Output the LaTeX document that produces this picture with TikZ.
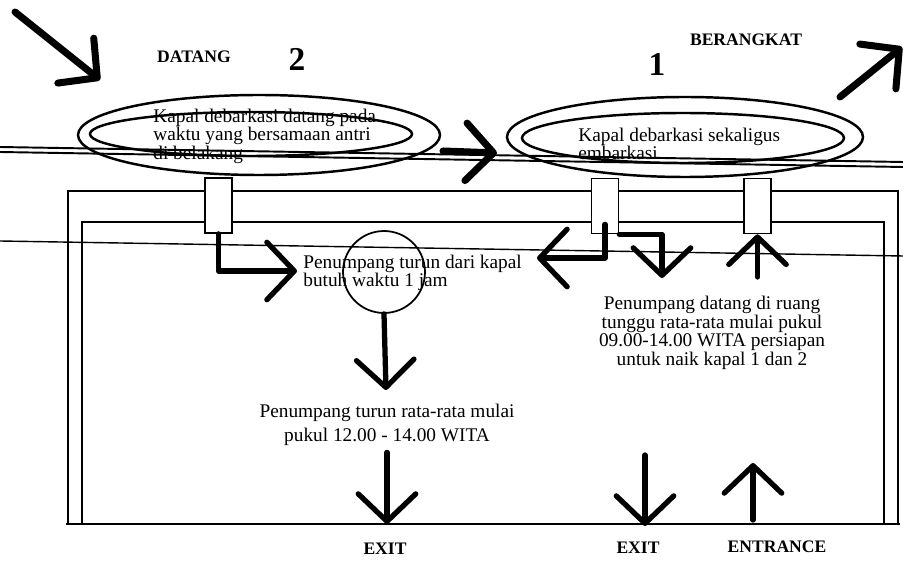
\documentclass[tikz,border=0pt]{standalone}
\usepackage{fontspec}
\setmainfont{Liberation Serif}
\usetikzlibrary{arrows.meta}

\begin{document}
\begin{tikzpicture}[x=0.02cm,y=-0.02cm,
  wall/.style={line width=1.1pt},
  gate/.style={draw,fill=white,line width=1pt,minimum width=0.54cm,minimum height=1.1cm,inner sep=0pt},
  flow/.style={line width=3pt,line cap=round,line join=round,-{Straight Barb[length=0.55cm,width=1.15cm,line cap=round,line join=round]}},
  heavy/.style={flow,line width=4pt},
  note/.style={font=\fontsize{11}{10.5}\selectfont,inner sep=0pt},
  tag/.style={font=\bfseries\fontsize{10}{12}\selectfont,inner sep=0pt},
  bignum/.style={font=\bfseries\fontsize{19}{22}\selectfont,inner sep=0pt}]
\useasboundingbox (0,0) rectangle (903,563);
\clip (0,0) rectangle (903,563);
\draw[line width=1.4pt] (259,135) ellipse [x radius=181,y radius=40];
\draw[line width=1.4pt] (251,134) ellipse [x radius=161,y radius=22];
\draw[line width=1.4pt] (685,137) ellipse [x radius=178,y radius=40];
\draw[line width=1.4pt] (683,138) ellipse [x radius=161,y radius=25];
\draw[wall] (0,147) -- (903,162);
\draw[wall] (0,152) -- (903,167);
\draw[line width=0.8pt] (0,241) -- (903,256);
\draw[wall] (68,524) -- (68,191) -- (898,191) -- (898,524);
\draw[wall] (82,524) -- (82,222) -- (884,222) -- (884,524);
\draw[line width=1.6pt] (66,524) -- (900,524);
\node[gate] (gateL) at (218.5,205.5) {};
\node[gate] (gateM) at (605,206) {};
\node[gate] (gateR) at (757.5,206) {};
\node[tag] (datang) at (194,57) {DATANG};
\node[bignum] (two) at (297,59) {2};
\node[bignum] (one) at (657,64) {1};
\node[tag] (berangkat) at (746,40) {BERANGKAT};
\node[note,align=left,anchor=west] (shipL) at (153,136) {Kapal debarkasi datang pada\\waktu yang bersamaan antri\\di belakang};
\node[note,align=left,anchor=west] (shipR) at (578,144) {Kapal debarkasi sekaligus\\embarkasi};
\node[note,align=left,anchor=west] (alight) at (303,273) {Penumpang turun dari kapal\\butuh waktu 1 jam};
\node[draw,circle,line width=1pt,minimum size=1.64cm] (lens) at (384,272) {};
\node[note,align=center] (wait) at (712,333) {Penumpang datang di ruang\\tunggu rata-rata mulai pukul\\09.00-14.00 WITA persiapan\\untuk naik kapal 1 dan 2};
\node[note,align=center,font=\fontsize{11}{14}\selectfont] (leave) at (387,425) {Penumpang turun rata-rata mulai\\pukul 12.00 - 14.00 WITA};
\node[tag] (exitL) at (385,549) {EXIT};
\node[tag] (exitR) at (638,548) {EXIT};
\node[tag] (entrance) at (777,547) {ENTRANCE};
\coordinate (inA) at (15,12);
\coordinate (inB) at (100,80);
\draw[heavy] (inA) -- (inB);
\coordinate (outA) at (840,97);
\coordinate (outB) at (902,47);
\draw[heavy] (outA) -- (outB);
\coordinate (seaA) at (443,151);
\coordinate (seaB) at (497,153);
\draw[heavy] (seaA) -- (seaB);
\coordinate (toLens) at (297,271);
\draw[flow] (gateL.south) |- (toLens);
\coordinate (toLeft) at (537,258);
\draw[flow] ([yshift=0.2cm]gateM.south) |- (toLeft);
\coordinate (toWait) at (662,278);
\draw[flow] (gateM.south east) -| (toWait);
\coordinate (fromWait) at (757.5,277);
\draw[flow] (fromWait) -- (gateR.south);
\coordinate (toLeave) at (386,390);
\draw[flow] (lens.south) -- (toLeave);
\coordinate (exitLtip) at (387,524);
\draw[flow,shorten <=0.12cm] (leave.south) -- (exitLtip);
\coordinate (exitRtail) at (645,455);
\coordinate (exitRtip) at (645,526);
\draw[flow] (exitRtail) -- (exitRtip);
\coordinate (entTail) at (753,520);
\coordinate (entTip) at (753,463);
\draw[flow] (entTail) -- (entTip);
\end{tikzpicture}
\end{document}
